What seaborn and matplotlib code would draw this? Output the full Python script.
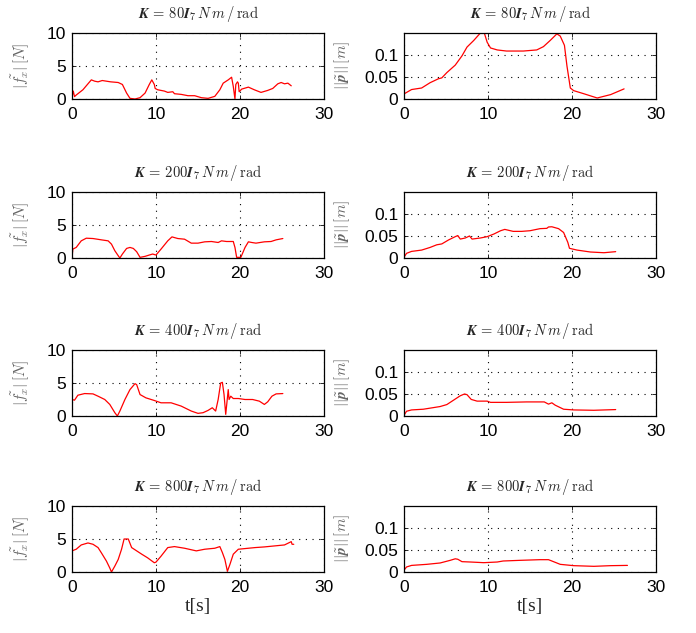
import matplotlib

matplotlib.use("Agg")
import matplotlib.pyplot as plt
import seaborn as sns

# stiffness gains, one row of panels each
GAINS = [80, 200, 400, 800]

# |f_x| [N] vs t [s]
T_F80 = [0.0, 0.05, 0.15, 0.3, 0.5, 1.3, 2.3, 2.7, 3.1, 3.6, 4.1, 4.6, 5.5, 6.0, 6.5, 6.9, 7.5, 8.1, 8.7,
         9.2, 9.5, 9.8, 9.9, 10.2, 10.6, 11.0, 11.4, 12.0, 12.2, 13.0, 13.8, 14.6, 15.4, 16.2, 17.0, 17.6,
         18.0, 18.6, 19.0, 19.2, 19.4, 19.5, 19.7, 19.8, 19.9, 20.2, 21.0, 21.7, 22.5, 23.3, 23.9, 24.5,
         24.9, 25.3, 25.7, 26.1]
F80 = [1.8, 0.6, 1.2, 0.36, 0.6, 1.4, 2.9, 2.7, 2.6, 2.8, 2.7, 2.6, 2.5, 2.2, 0.9, 0.1, 0.0, 0.2, 0.9,
       2.2, 2.9, 2.2, 1.6, 1.4, 1.3, 1.2, 1.0, 1.1, 0.8, 0.7, 0.5, 0.5, 0.2, 0.1, 0.4, 1.4,
       2.4, 2.9, 3.3, 1.9, 0.0, 2.2, 2.6, 2.4, 1.1, 1.5, 1.8, 1.4, 1.0, 1.3, 1.6, 2.3,
       2.5, 2.3, 2.4, 2.0]

T_F200 = [0.0, 0.1, 0.5, 1.1, 1.7, 2.5, 3.5, 4.3, 4.7, 5.1, 5.5, 5.7, 6.0, 6.5, 6.9, 7.3, 7.7, 8.1, 8.7,
          9.2, 9.6, 10.0, 10.6, 11.4, 11.9, 12.6, 13.4, 14.2, 15.0, 15.8, 16.6, 17.4, 17.8, 18.4, 19.2,
          19.4, 19.6, 20.1, 20.6, 21.0, 21.4, 21.9, 22.9, 23.7, 24.3, 25.1]
F200 = [0.0, 1.35, 1.6, 2.6, 3.0, 2.95, 2.75, 2.6, 2.1, 1.1, 0.35, 0.0, 0.6, 1.45, 1.6, 1.45, 0.95, 0.1, 0.25,
        0.45, 0.6, 0.45, 1.35, 2.6, 3.2, 2.95, 2.85, 2.25, 2.25, 2.45, 2.5, 2.35, 2.6, 2.5, 2.5,
        1.6, 0.1, 0.1, 1.6, 2.45, 2.35, 2.25, 2.45, 2.5, 2.75, 2.95]

T_F400 = [0.0, 0.3, 0.7, 1.5, 2.5, 3.1, 3.9, 4.5, 5.1, 5.4, 5.7, 6.3, 6.9, 7.5, 7.7, 8.1, 8.8, 9.8,
          10.6, 11.8, 13.0, 14.2, 15.0, 15.6, 16.2, 16.7, 17.1, 17.4, 17.7, 17.9, 18.1, 18.3, 18.5,
          18.6, 18.7, 18.9, 19.2, 19.8, 20.6, 21.5, 22.3, 22.9, 23.3, 23.8, 24.3, 25.1]
F400 = [2.5, 2.4, 3.15, 3.4, 3.35, 3.0, 2.5, 1.75, 0.5, 0.0, 0.75, 2.5, 4.0, 4.9, 4.75, 3.25, 2.75, 2.35,
        2.0, 2.0, 1.5, 0.75, 0.4, 0.5, 0.85, 1.25, 0.75, 2.5, 5.0, 5.1, 3.25, 0.25, 2.75,
        4.0, 2.5, 3.0, 2.65, 2.65, 2.5, 2.5, 2.25, 1.75, 2.15, 3.0, 3.35, 3.4]

T_F800 = [0.0, 0.5, 1.1, 1.9, 2.5, 3.1, 3.5, 4.1, 4.5, 4.7, 5.1, 5.5, 5.9, 6.2, 6.7, 7.1, 7.7, 8.3, 9.0,
          9.8, 10.0, 10.6, 11.4, 12.2, 13.4, 14.8, 15.8, 17.0, 17.6, 17.9, 18.2, 18.5, 18.8, 19.2, 19.8,
          20.6, 21.8, 22.9, 24.1, 25.3, 26.1, 26.2, 26.4]
F800 = [3.2, 3.45, 4.1, 4.4, 4.2, 3.7, 2.9, 1.65, 0.6, 0.0, 0.9, 1.9, 3.45, 5.0, 5.0, 3.7, 3.2, 2.7, 2.15,
        1.4, 1.5, 2.4, 3.7, 3.85, 3.6, 3.2, 3.45, 3.6, 3.85, 2.95, 1.9, 0.1, 1.15, 2.7, 3.45,
        3.55, 3.7, 3.8, 3.95, 4.1, 4.6, 4.2, 4.2]

# ||p~|| [m] vs t [s]
T_P80 = [0.0, 0.9, 2.1, 3.1, 4.1, 4.5, 5.1, 6.1, 6.9, 7.5, 8.3, 9.0, 9.4, 9.9, 10.3, 11.1, 12.2, 14.2,
         15.8, 16.6, 17.4, 18.2, 18.6, 19.1, 19.4, 19.8, 20.2, 21.4, 23.0, 24.6, 26.2]
P80 = [0.0115, 0.0215, 0.025, 0.037, 0.046, 0.048, 0.06, 0.077, 0.098, 0.118, 0.133, 0.148, 0.16, 0.129,
       0.116, 0.1115, 0.109, 0.109, 0.1115, 0.119, 0.133, 0.148, 0.143, 0.122, 0.075, 0.025, 0.019,
       0.012, 0.0023, 0.01, 0.023]

T_P200 = [0.0, 0.3, 0.9, 2.1, 3.1, 3.9, 4.5, 5.3, 6.1, 6.4, 6.7, 7.3, 7.8, 8.1, 9.1, 9.9, 10.7, 11.5,
          12.0, 13.0, 14.0, 15.0, 16.2, 17.0, 17.2, 17.6, 18.4, 19.0, 19.5, 19.7, 20.6, 22.2, 23.8, 25.2]
P200 = [0.0015, 0.0106, 0.015, 0.018, 0.024, 0.030, 0.032, 0.041, 0.0485, 0.051, 0.043, 0.0455, 0.05,
        0.043, 0.0455, 0.0485, 0.0545, 0.062, 0.065, 0.0605, 0.0605, 0.062, 0.0667, 0.0674, 0.0705,
        0.071, 0.0667, 0.058, 0.0356, 0.022, 0.018, 0.0136, 0.012, 0.0144]

T_P400 = [0.0, 0.3, 0.9, 2.3, 4.3, 5.1, 5.9, 6.7, 7.2, 7.5, 8.0, 8.7, 9.9, 10.3, 12.2, 14.6, 16.7, 17.2,
          17.6, 18.0, 19.0, 20.2, 22.6, 25.2]
P400 = [0.0015, 0.0108, 0.0138, 0.0154, 0.0215, 0.026, 0.036, 0.046, 0.05, 0.0485, 0.0377, 0.0338,
        0.0338, 0.031, 0.031, 0.032, 0.032, 0.027, 0.03, 0.0246, 0.0154, 0.0138, 0.013, 0.0146]

T_P800 = [0.0, 0.3, 0.9, 2.7, 4.3, 5.5, 6.1, 6.4, 6.9, 7.9, 9.5, 11.1, 11.8, 13.8, 16.2, 17.2, 17.8,
          18.6, 20.2, 22.6, 24.6, 26.6]
P800 = [0.004, 0.0114, 0.015, 0.0174, 0.0205, 0.0265, 0.030, 0.029, 0.0235, 0.0227, 0.0212, 0.0227,
        0.025, 0.0265, 0.028, 0.028, 0.0235, 0.0174, 0.0144, 0.0129, 0.0144, 0.015]

FORCE = [(T_F80, F80), (T_F200, F200), (T_F400, F400), (T_F800, F800)]
POS = [(T_P80, P80), (T_P200, P200), (T_P400, P400), (T_P800, P800)]

sns.set_theme(style="white")
plt.rcParams["mathtext.fontset"] = "cm"
plt.rcParams["font.family"] = ["Liberation Sans", "DejaVu Sans"]

fig = plt.figure(figsize=(6.96, 6.33), dpi=100)
W, H = 696, 633
col_x = [72, 404]
row_y = [33, 192, 350, 506]
aw, ah = 252, 66


def style_axis(ax, ymax, yticks, yticklabels):
    ax.set_xlim(0, 30)
    ax.set_ylim(0, ymax)
    ax.set_xticks([0, 10, 20, 30])
    ax.set_yticks(yticks)
    ax.set_yticklabels(yticklabels)
    ax.tick_params(axis="both", direction="in", length=3, width=0.6, labelsize=12.5,
                   colors="black", top=True, right=True, bottom=True, left=True)
    ax.tick_params(axis="x", pad=6)
    ax.tick_params(axis="y", pad=4)
    ax.grid(True, color="black", linestyle=(0, (1, 5)), linewidth=0.8)
    for sp in ax.spines.values():
        sp.set_color("black")
        sp.set_linewidth(0.9)
    ax.set_xlabel("")


for r, k in enumerate(GAINS):
    title = r"$\boldsymbol{K}\,=\,%d\boldsymbol{I}_{7}\,N\,m\,/\,\mathrm{rad}$" % k
    for c in range(2):
        x0 = col_x[c] / W
        y0 = 1 - (row_y[r] + ah) / H
        ax = fig.add_axes([x0, y0, aw / W, ah / H])
        if c == 0:
            t, v = FORCE[r]
            sns.lineplot(x=t, y=v, ax=ax, color="red", linewidth=0.9)
            style_axis(ax, 10, [0, 5, 10], ["0", "5", "10"])
            ax.set_ylabel(r"$|\tilde{f_x}|\,[N]$", fontsize=11, color="#666666")
            ax.yaxis.set_label_coords(-0.16, 0.5)
        else:
            t, v = POS[r]
            sns.lineplot(x=t, y=v, ax=ax, color="red", linewidth=0.9)
            style_axis(ax, 0.15, [0, 0.05, 0.1], ["0", "0.05", "0.1"])
            ax.set_ylabel(r"$||\tilde{\boldsymbol{p}}||\,[m]$", fontsize=11, color="#666666")
            ax.yaxis.set_label_coords(-0.205, 0.5)
        ax.set_title(title, fontsize=10.5, pad=11)
        if r == 3:
            ax.set_xlabel("t[s]", fontsize=14, family="Liberation Serif", labelpad=2)

fig.savefig("out.png", dpi=100)
